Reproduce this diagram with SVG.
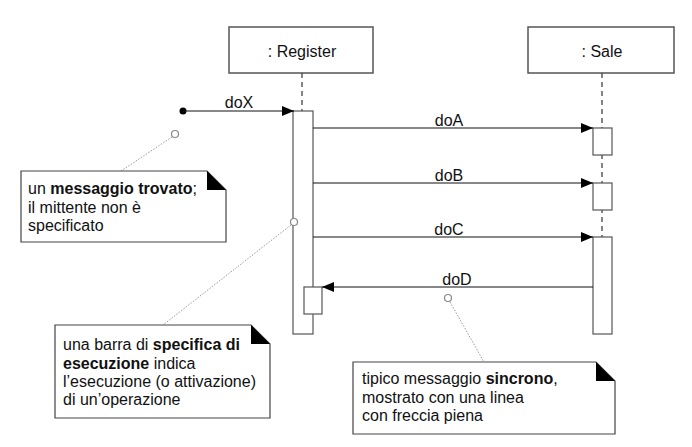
<svg xmlns="http://www.w3.org/2000/svg" width="692" height="447" viewBox="0 0 692 447">
<style>
  .box { fill: #fff; stroke: #555; stroke-width: 1.5; }
  .bar { fill: #fff; stroke: #555; stroke-width: 1.2; }
  .life { stroke: #333; stroke-width: 1.2; stroke-dasharray: 5,4; fill: none; }
  .msg { stroke: #111; stroke-width: 1.2; fill: none; marker-end: url(#arrow); }
  .lbl { font-family: "Liberation Sans", Arial, sans-serif; font-size: 16px; fill: #111; text-anchor: middle; }
  .note { fill: #fff; stroke: #444; stroke-width: 1.2; }
  .fold { fill: #000; }
  .ntxt { font-family: "Liberation Sans", Arial, sans-serif; font-size: 16px; fill: #111; }
  .b { font-weight: bold; }
  .dot { stroke: #999; stroke-width: 1; stroke-dasharray: 1.5,1.5; fill: none; }
  .anch { fill: #fff; stroke: #888; stroke-width: 1.2; }
</style>
<defs>
  <marker id="arrow" markerUnits="userSpaceOnUse" markerWidth="13" markerHeight="11" refX="12" refY="5" orient="auto">
    <path d="M0,0 L12,5 L0,10 z" fill="#000"/>
  </marker>
</defs>
<rect width="692" height="447" fill="#fff"/>

<g id="register">
  <rect class="box" x="229" y="27" width="144" height="46"/>
  <text class="lbl" x="302" y="57">: Register</text>
  <line class="life" x1="302" y1="73" x2="302" y2="111"/>
  <rect class="bar" x="293" y="111" width="20" height="223"/>
  <rect class="bar" x="304" y="287" width="18" height="27"/>
</g>

<g id="sale">
  <rect class="box" x="528" y="27" width="146" height="46"/>
  <text class="lbl" x="602" y="57">: Sale</text>
  <line class="life" x1="602" y1="73" x2="602" y2="237"/>
  <rect class="bar" x="593" y="128" width="19" height="27"/>
  <rect class="bar" x="593" y="183" width="19" height="27"/>
  <rect class="bar" x="593" y="237" width="19" height="97"/>
</g>

<g id="connectors">
  <circle cx="183" cy="111" r="3.5" fill="#000"/>
  <line class="msg" x1="183" y1="111" x2="294" y2="111"/>
  <text class="lbl" x="239" y="108">doX</text>
  <line class="msg" x1="313" y1="128" x2="593" y2="128"/>
  <text class="lbl" x="449" y="126">doA</text>
  <line class="msg" x1="313" y1="183" x2="593" y2="183"/>
  <text class="lbl" x="449" y="181">doB</text>
  <line class="msg" x1="313" y1="237" x2="593" y2="237"/>
  <text class="lbl" x="449" y="235">doC</text>
  <line class="msg" x1="593" y1="287" x2="322" y2="287"/>
  <text class="lbl" x="457" y="285">doD</text>

  <line class="dot" x1="172" y1="137" x2="121" y2="171"/>
  <circle class="anch" cx="175" cy="134" r="3.5"/>
  <line class="dot" x1="291" y1="225" x2="163" y2="325"/>
  <circle class="anch" cx="294" cy="222" r="3.5"/>
  <line class="dot" x1="450" y1="302" x2="484" y2="362"/>
  <circle class="anch" cx="448" cy="298" r="3.5"/>
</g>

<g id="note-trovato">
  <path class="note" d="M21,171 H207 L226,190 V242 H21 Z"/>
  <path class="fold" d="M207,171 L226,190 H207 Z"/>
  <text class="ntxt" x="28" y="194">un <tspan class="b">messaggio trovato</tspan>;</text>
  <text class="ntxt" x="28" y="213">il mittente non è</text>
  <text class="ntxt" x="28" y="231">specificato</text>
</g>

<g id="note-esecuzione">
  <path class="note" d="M55,325 H251 L270,344 V418 H55 Z"/>
  <path class="fold" d="M251,325 L270,344 H251 Z"/>
  <text class="ntxt" x="63" y="350">una barra di <tspan class="b">specifica di</tspan></text>
  <text class="ntxt" x="63" y="369"><tspan class="b">esecuzione</tspan> indica</text>
  <text class="ntxt" x="63" y="387">l’esecuzione (o attivazione)</text>
  <text class="ntxt" x="63" y="405">di un’operazione</text>
</g>

<g id="note-sincrono">
  <path class="note" d="M353,362 H596 L615,381 V434 H353 Z"/>
  <path class="fold" d="M596,362 L615,381 H596 Z"/>
  <text class="ntxt" x="362" y="384">tipico messaggio <tspan class="b">sincrono</tspan>,</text>
  <text class="ntxt" x="362" y="403">mostrato con una linea</text>
  <text class="ntxt" x="362" y="421">con freccia piena</text>
</g>
</svg>
